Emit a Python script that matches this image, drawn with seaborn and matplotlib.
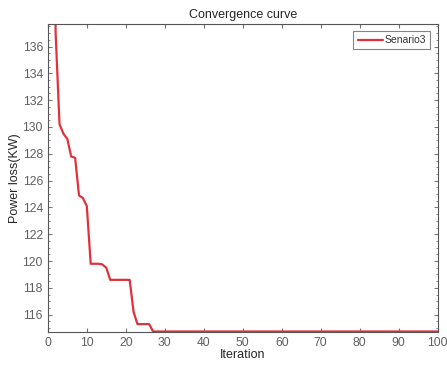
import matplotlib
matplotlib.use('Agg')
import matplotlib.pyplot as plt
from matplotlib.ticker import MultipleLocator
import seaborn as sns
import pandas as pd

# Values (iterations 1..100).
iterations = list(range(1, 101))
head_losses = [170.0, 137.0, 130.2, 129.5, 129.1, 127.8, 127.7, 124.9, 124.7, 124.1,
               119.8, 119.8, 119.8, 119.75, 119.5, 118.6, 118.6, 118.6, 118.6, 118.6,
               118.6, 116.2, 115.3, 115.3, 115.3, 115.3]
final_loss = 114.75
power_loss = head_losses + [final_loss] * (len(iterations) - len(head_losses))
series_name = 'Senario3'

x_ticks = list(range(0, 101, 10))
y_ticks = list(range(116, 137, 2))

df = pd.DataFrame({'Iteration': iterations, 'Power loss(KW)': power_loss})

sns.set_style('white')
plt.rcParams['font.family'] = ['Liberation Sans', 'DejaVu Sans']

fig = plt.figure(figsize=(4.47, 3.65), dpi=100)
ax = fig.add_axes([0.107, 0.09, 0.872, 0.845])

sns.lineplot(data=df, x='Iteration', y='Power loss(KW)', ax=ax,
             color='#e0323c', linewidth=1.6, label=series_name)

ax.set_xlim(0, 100)
ax.set_ylim(114.7, 137.7)
ax.set_xticks(x_ticks)
ax.set_yticks(y_ticks)
ax.yaxis.set_minor_locator(MultipleLocator(0.5))

axis_gray = '#262626'
for side in ax.spines.values():
    side.set_color('#555555')
    side.set_linewidth(0.8)
ax.tick_params(axis='both', which='both', direction='in', top=True, right=True,
               left=True, bottom=True, colors='#777777', labelcolor='#606060',
               labelsize=8.7)
ax.tick_params(axis='both', which='major', length=3)
ax.tick_params(axis='y', which='minor', length=1.5)

ax.set_xlabel('Iteration', fontsize=9, color=axis_gray, labelpad=0)
ax.set_ylabel('Power loss(KW)', fontsize=9, color=axis_gray, labelpad=1)
ax.set_title('Convergence curve', fontsize=9, color=axis_gray, pad=4)

leg = ax.legend(loc='upper right', fontsize=7.5, frameon=True, fancybox=False,
                handlelength=2.4, handletextpad=0.2, borderpad=0.4,
                borderaxespad=0.7)
leg.get_frame().set_edgecolor('#666666')
leg.get_frame().set_linewidth(0.8)
for t in leg.get_texts():
    t.set_color('#333333')

fig.savefig('out.png', dpi=100)
